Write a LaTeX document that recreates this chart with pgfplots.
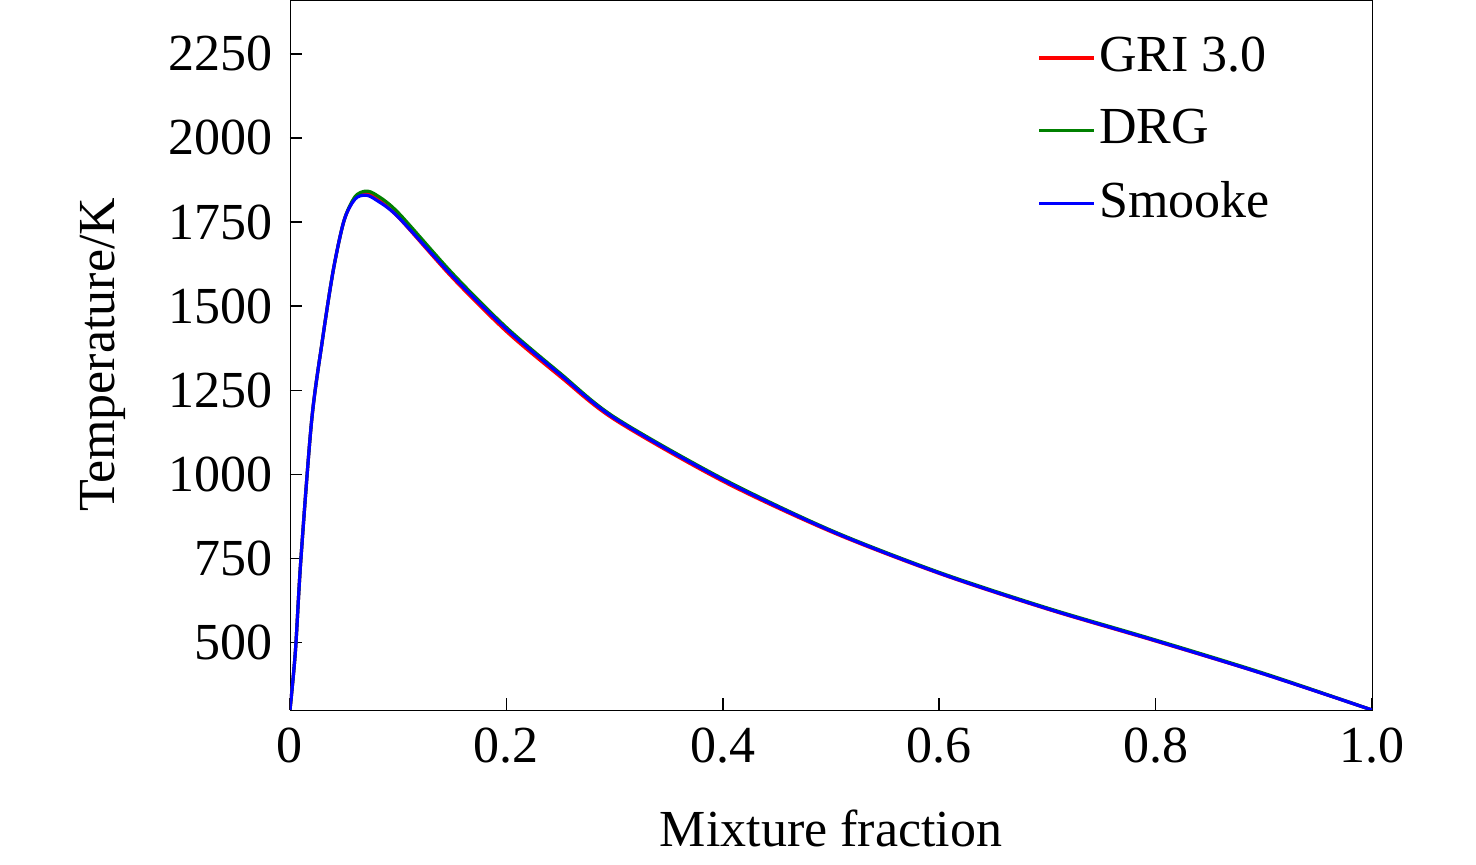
\documentclass[border=0pt]{standalone}
\usepackage{pgfplots}
\pgfplotsset{compat=1.18}
\usepackage{fontspec}
\setmainfont{Liberation Serif}
\begin{document}
\fontsize{26}{30}\selectfont
\begin{tikzpicture}
\useasboundingbox (-145pt,-77.5pt) rectangle (593pt,355pt);
\begin{axis}[at={(0,0)},anchor=south west,
 width=541pt,height=355pt,scale only axis,
 xmin=0,xmax=1,ymin=300,ymax=2410,
 xtick={0,0.2,0.4,0.6,0.8,1.0},xticklabels={0,0.2,0.4,0.6,0.8,1.0},
 ytick={500,750,1000,1250,1500,1750,2000,2250},
 tick align=inside, xtick pos=bottom, ytick pos=left,
 major tick length=6pt, tick style={black,line width=0.8pt},
 /pgf/number format/assume math mode=true,
 ticklabel style={font=\fontsize{26}{30}\selectfont},
 yticklabel style={/pgf/number format/1000 sep={}},
 xlabel={Mixture fraction},ylabel={Temperature/K},
 label style={font=\fontsize{26}{30}\selectfont},
 xlabel style={yshift=-6pt},
 ylabel style={yshift=4pt},
 legend style={draw=none,fill=none,at={(0.685,0.96)},anchor=north west,font=\fontsize{26}{30}\selectfont,row sep=11pt},
 legend image post style={xscale=1.6},
 legend cell align=left,
 every axis plot/.append style={line width=1.6pt,smooth},
]
\addplot[red] coordinates {(0,300)(0.005,475)(0.01,745)(0.02,1160)(0.03,1400)(0.04,1607)(0.05,1755)(0.06,1820)(0.07,1835)(0.08,1820)(0.1,1765)(0.15,1585)(0.2,1425)(0.25,1290)(0.3,1163)(0.4,980)(0.5,830)(0.6,706)(0.7,600)(0.8,505)(0.9,407)(1.0,300)};
\addlegendentry{GRI 3.0}
\addplot[green!50!black] coordinates {(0,300)(0.005,475)(0.01,745)(0.02,1160)(0.03,1400)(0.04,1607)(0.05,1755)(0.06,1825)(0.07,1842)(0.08,1830)(0.1,1778)(0.15,1598)(0.2,1437)(0.25,1300)(0.3,1170)(0.4,987)(0.5,834)(0.6,709)(0.7,603)(0.8,508)(0.9,409)(1.0,300)};
\addlegendentry{DRG}
\addplot[blue] coordinates {(0,300)(0.005,475)(0.01,745)(0.02,1160)(0.03,1400)(0.04,1607)(0.05,1755)(0.06,1818)(0.07,1830)(0.08,1815)(0.1,1765)(0.15,1590)(0.2,1432)(0.25,1296)(0.3,1167)(0.4,984)(0.5,832)(0.6,707)(0.7,601)(0.8,506)(0.9,407)(1.0,300)};
\addlegendentry{Smooke}
\end{axis}
\end{tikzpicture}
\end{document}
